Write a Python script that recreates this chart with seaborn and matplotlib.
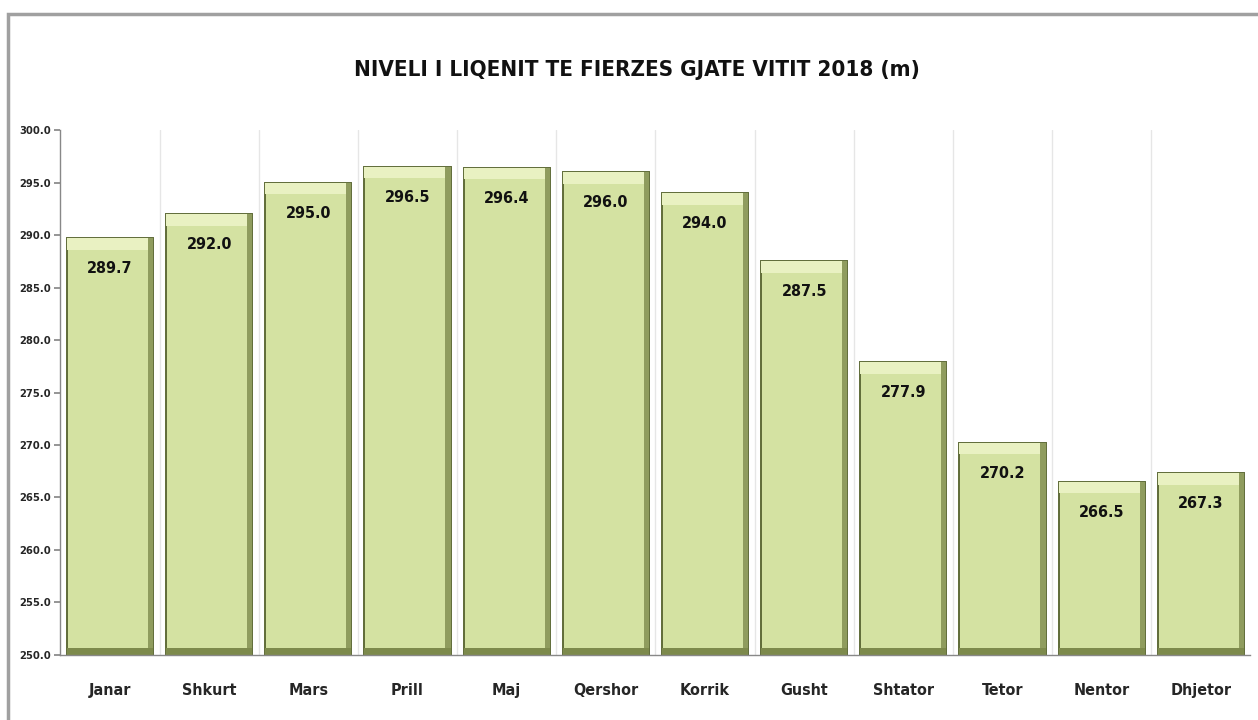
import matplotlib
matplotlib.use('Agg')
import matplotlib.pyplot as plt
import seaborn as sns
import pandas as pd
from matplotlib.patches import Rectangle

# data
months = ['Janar', 'Shkurt', 'Mars', 'Prill', 'Maj', 'Qershor',
          'Korrik', 'Gusht', 'Shtator', 'Tetor', 'Nentor', 'Dhjetor']
levels = [289.7, 292.0, 295.0, 296.5, 296.4, 296.0,
          294.0, 287.5, 277.9, 270.2, 266.5, 267.3]
y_ticks = [250.0, 255.0, 260.0, 265.0, 270.0, 275.0,
           280.0, 285.0, 290.0, 295.0, 300.0]
title = 'NIVELI I LIQENIT TE FIERZES GJATE VITIT 2018 (m)'

sns.set_theme(style='white')
plt.rcParams['font.family'] = ['DejaVu Sans']
plt.rcParams['font.stretch'] = 'condensed'

df = pd.DataFrame({'month': months, 'level': levels})

fig = plt.figure(figsize=(12.58, 7.2), dpi=100)
ax = fig.add_axes([0.048, 0.0903, 0.946, 0.7291])

# outer chart frame
fig.patches.append(Rectangle((8 / 1258, -0.05), 1.1, (720 - 14) / 720 + 0.05,
                             transform=fig.transFigure, fill=False,
                             edgecolor='#a0a0a0', linewidth=2.5))

sns.barplot(data=df, x='month', y='level', ax=ax, color='#d4e2a2',
            width=0.87, saturation=1, edgecolor='#5f6b38', linewidth=1.4)

ax.set_ylim(250, 300)
ax.set_xlim(-0.5, len(months) - 0.5)

# bevel look: lighter top band, dark right side and bottom
for p in ax.patches[:len(months)]:
    x0, w, h = p.get_x(), p.get_width(), p.get_height()
    top = p.get_y() + h
    z = p.get_zorder() + 0.1
    ax.add_patch(Rectangle((x0, top - 1.1), w, 1.1, facecolor='#e9f1c2',
                           edgecolor='none', zorder=z))
    ax.add_patch(Rectangle((x0 + w * 0.94, 250), w * 0.06, top - 250,
                           facecolor='#8f9c5e', edgecolor='none', zorder=z))
    ax.add_patch(Rectangle((x0, 250), w, 0.7, facecolor='#7d8a4c',
                           edgecolor='none', zorder=z))

for i, v in enumerate(levels):
    ax.text(i, v - 2.2, f'{v:.1f}', ha='center', va='top',
            fontsize=11.5, fontweight='bold', color='#111111', zorder=5)

# vertical gridlines between categories
for b in range(1, len(months)):
    ax.axvline(b - 0.5, color='#e6e6e6', linewidth=1, zorder=0)

ax.set_yticks(y_ticks)
ax.set_yticklabels([f'{t:.1f}' for t in y_ticks], fontsize=8, fontweight='bold')
ax.set_xticks(range(len(months)))
ax.set_xticklabels(months, fontsize=11.5, fontweight='bold')
ax.set_xticks([b - 0.5 for b in range(len(months) + 1)], minor=True)
ax.tick_params(axis='x', which='major', length=0, pad=20)
ax.tick_params(axis='x', which='minor', length=4, color='#888888', direction='out')
ax.tick_params(axis='y', length=4, color='#888888', direction='out', left=True, pad=3)
ax.set_xlabel('')
ax.set_ylabel('')

for s in ['top', 'right']:
    ax.spines[s].set_visible(False)
for s in ['left', 'bottom']:
    ax.spines[s].set_color('#888888')
    ax.spines[s].set_linewidth(1)

fig.text(0.506, 0.903, title, ha='center', va='center',
         fontsize=16, fontweight='bold', color='#111111')

fig.savefig('out.png', dpi=100, facecolor='white')
